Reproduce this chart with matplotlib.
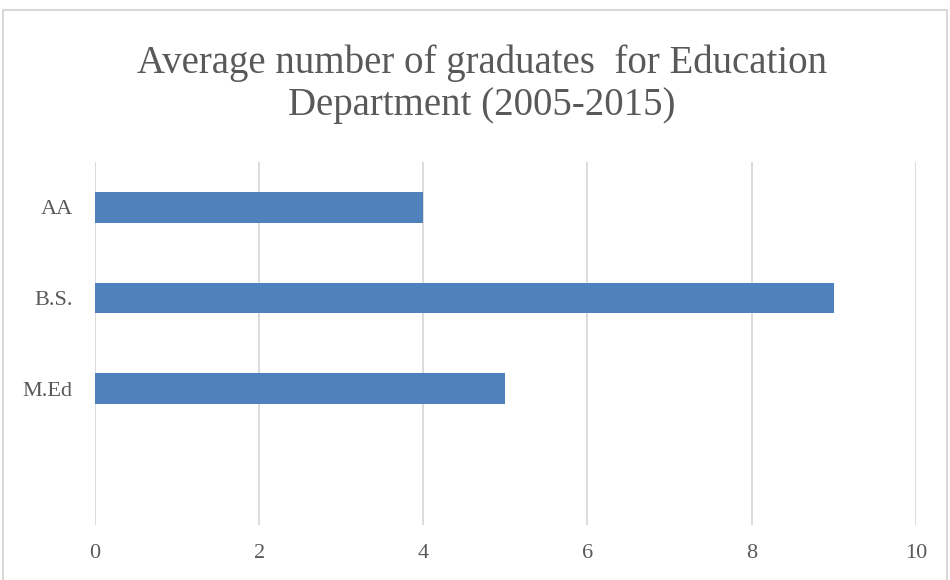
import matplotlib.pyplot as plt
from matplotlib.patches import Rectangle

categories = ["AA", "B.S.", "M.Ed", ""]
values = [4, 9, 5, 0]
ticks = [0, 2, 4, 6, 8, 10]

plt.rcParams['font.family'] = ['Liberation Serif', 'DejaVu Serif']

fig = plt.figure(figsize=(9.5, 5.8), dpi=100)
ax = fig.add_axes([0.1, 0.095, 0.864, 0.626])

ax.barh(range(len(categories)), values, height=0.34, color='#4F81BD', zorder=3)
ax.set_yticks(range(len(categories)))
ax.set_yticklabels(categories)
ax.set_ylim(len(categories) - 0.5, -0.5)
ax.set_xlim(0, 10)
ax.set_xticks(ticks)

ax.grid(axis='x', color='#D9D9D9', linewidth=1.3, zorder=0)
for s in ax.spines.values():
    s.set_visible(False)
ax.tick_params(length=0, labelsize=16, colors='#595959')
ax.tick_params(axis='y', pad=16)
ax.tick_params(axis='x', pad=14)

fig.text(0.507, 0.855, "Average number of graduates  for Education\nDepartment (2005-2015)",
         ha='center', va='center', fontsize=28, color='#595959', linespacing=1.2)

fig.patches.append(Rectangle((3 / 950, -0.1), 944 / 950, 1.1 - 10 / 580,
                             transform=fig.transFigure, fill=False,
                             edgecolor='#D9D9D9', linewidth=1.5))

fig.savefig('out.png', dpi=100)
